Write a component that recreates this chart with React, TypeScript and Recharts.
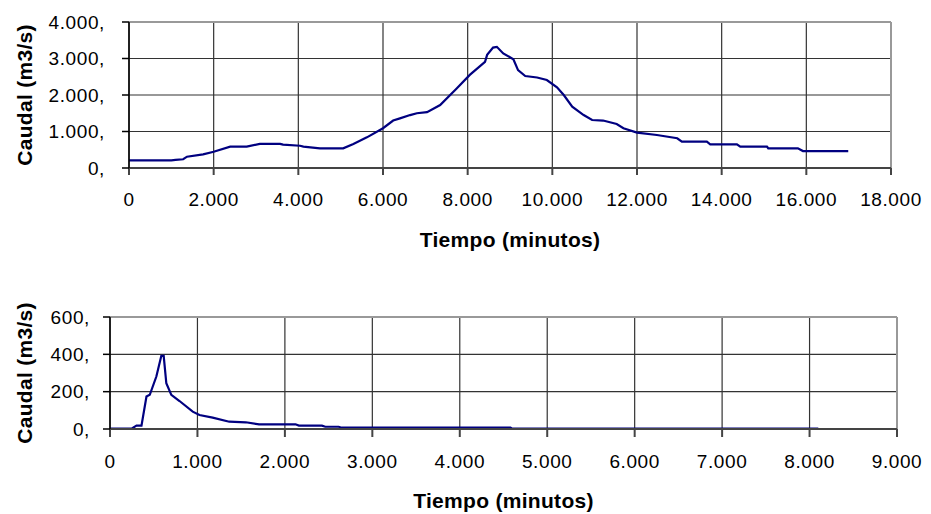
import React from 'react';
import { LineChart, Line, XAxis, YAxis, CartesianGrid, ReferenceLine } from 'recharts';

// Top hydrograph
const topTime = [0, 1000, 1100, 1280, 1370, 1750, 2000, 2390, 2780, 3090, 3570, 3640, 4040, 4120, 4510, 5060, 5300, 5620, 6000, 6240, 6400, 6640, 6800, 7040, 7350, 7740, 8050, 8410, 8460, 8600, 8690, 8840, 9080, 9190, 9360, 9640, 9870, 10110, 10270, 10470, 10740, 10940, 11200, 11520, 11680, 12000, 12470, 12950, 13060, 13650, 13730, 14360, 14440, 15070, 15100, 15800, 15920, 16990];
const topFlow = [210, 210, 220, 240, 310, 375, 445, 585, 585, 660, 660, 640, 610, 585, 540, 540, 660, 840, 1090, 1300, 1360, 1450, 1500, 1530, 1725, 2180, 2550, 2910, 3100, 3300, 3320, 3140, 2980, 2680, 2520, 2480, 2410, 2210, 2000, 1680, 1450, 1315, 1300, 1205, 1090, 970, 905, 815, 720, 720, 650, 650, 585, 585, 540, 540, 465, 465];
const topXTicks = [0, 2000, 4000, 6000, 8000, 10000, 12000, 14000, 16000, 18000];
const topYTicks = [0, 1000, 2000, 3000, 4000];

// Bottom hydrograph
const botTime = [0, 246, 303, 360, 417, 455, 530, 587, 614, 644, 701, 795, 946, 1023, 1174, 1364, 1553, 1705, 2121, 2160, 2424, 2462, 2614, 2650, 4580, 4600, 8100];
const botFlow = [2, 2, 18, 18, 174, 183, 281, 392, 392, 245, 183, 150, 93, 75, 61, 39, 36, 25, 25, 18, 18, 12, 12, 7, 7, 2, 2];
const botXTicks = [0, 1000, 2000, 3000, 4000, 5000, 6000, 7000, 8000, 9000];
const botYTicks = [0, 200, 400, 600];

const xTitle = 'Tiempo (minutos)';
const yTitle = 'Caudal (m3/s)';

const topData = topTime.map((t, i) => ({ t, q: topFlow[i] }));
const botData = botTime.map((t, i) => ({ t, q: botFlow[i] }));

const fmtThousands = (v: number) => {
  const s = String(Math.round(v));
  return s.replace(/\B(?=(\d{3})+(?!\d))/g, '.');
};
const fmtX = (v: number) => fmtThousands(v);
const fmtY = (v: number) => fmtThousands(v) + ',';

const FONT = '"Liberation Sans", Arial, sans-serif';
const tickStyle = { fontSize: 19, fill: '#000', fontFamily: FONT, letterSpacing: 0.6 };
const titleStyle = { fontSize: 21, fontWeight: 700, fill: '#000', fontFamily: FONT, letterSpacing: 0.3 };

export default function App() {
  return (
    <div style={{ position: 'absolute', left: 0, top: 0, width: 931, height: 514, background: '#fff' }}>
      <div style={{ position: 'absolute', left: 0, top: 0 }}>
        <LineChart width={931} height={260} data={topData} margin={{ top: 22, right: 40, left: 0, bottom: 32 }}>
          <CartesianGrid stroke="#333" strokeWidth={1.2} />
          <XAxis
            dataKey="t"
            type="number"
            domain={[0, 18000]}
            ticks={topXTicks}
            tickFormatter={fmtX}
            height={60}
            tickSize={7}
            tickMargin={18}
            tick={tickStyle}
            stroke="#444"
            strokeWidth={2}
            label={{ value: xTitle, position: 'bottom', offset: 4, style: titleStyle }}
          />
          <YAxis
            type="number"
            domain={[0, 4000]}
            ticks={topYTicks}
            tickFormatter={fmtY}
            width={129}
            tickSize={7}
            tickMargin={17}
            tick={tickStyle}
            stroke="#000"
            strokeWidth={1.5}
            label={{ value: yTitle, angle: -90, position: 'insideLeft', offset: 25, style: { ...titleStyle, textAnchor: 'middle' } }}
          />
          <ReferenceLine y={4000} stroke="#999" strokeWidth={2} />
          <ReferenceLine x={18000} stroke="#999" strokeWidth={2} />
          <Line type="linear" dataKey="q" stroke="#000080" strokeWidth={2.2} dot={false} isAnimationActive={false} />
        </LineChart>
      </div>
      <div style={{ position: 'absolute', left: 0, top: 260 }}>
        <LineChart width={931} height={254} data={botData} margin={{ top: 57, right: 34, left: 0, bottom: 25 }}>
          <CartesianGrid stroke="#333" strokeWidth={1.2} />
          <XAxis
            dataKey="t"
            type="number"
            domain={[0, 9000]}
            ticks={botXTicks}
            tickFormatter={fmtX}
            height={60}
            tickSize={8}
            tickMargin={18}
            tick={tickStyle}
            stroke="#444"
            strokeWidth={2}
            label={{ value: xTitle, position: 'bottom', offset: 4, style: titleStyle }}
          />
          <YAxis
            type="number"
            domain={[0, 600]}
            ticks={botYTicks}
            tickFormatter={fmtY}
            width={110}
            tickSize={7}
            tickMargin={13}
            tick={tickStyle}
            stroke="#000"
            strokeWidth={1.5}
            label={{ value: yTitle, angle: -90, position: 'insideLeft', offset: 25, style: { ...titleStyle, textAnchor: 'middle' } }}
          />
          <ReferenceLine y={600} stroke="#999" strokeWidth={2} />
          <ReferenceLine x={9000} stroke="#999" strokeWidth={2} />
          <Line type="linear" dataKey="q" stroke="#000080" strokeWidth={2.2} dot={false} isAnimationActive={false} />
        </LineChart>
      </div>
    </div>
  );
}
